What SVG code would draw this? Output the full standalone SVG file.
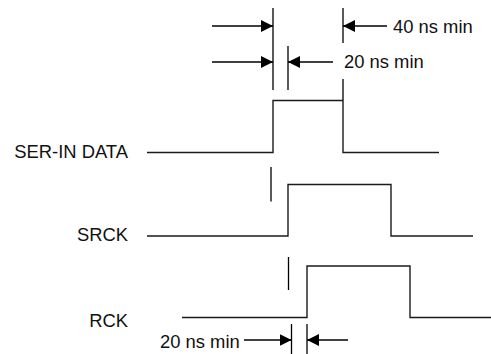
<svg xmlns="http://www.w3.org/2000/svg" width="491" height="354" viewBox="0 0 491 354">
<defs>
<style>
.w{fill:none;stroke:#1a1a1a;stroke-width:1.4}
.d{fill:none;stroke:#000;stroke-width:1.3}
.t{font-family:"Liberation Sans",Arial,sans-serif;font-size:18.4px;fill:#111}
</style>
<marker id="ah" viewBox="0 0 12 12" refX="12" refY="6" markerWidth="12" markerHeight="12" markerUnits="userSpaceOnUse" orient="auto">
<path d="M0,0 L12,6 L0,12 Z" fill="#000"/>
</marker>
</defs>
<rect width="491" height="354" fill="#fff"/>
<g id="labels">
<text class="t" x="128" y="157.5" text-anchor="end">SER-IN DATA</text>
<text class="t" x="128" y="240.5" text-anchor="end">SRCK</text>
<text class="t" x="128" y="327" text-anchor="end">RCK</text>
</g>
<g id="ser-in-data">
<polyline class="w" points="147,152.5 273,152.5 273,100.5 343,100.5 343,152.5 439,152.5"/>
</g>
<g id="srck">
<polyline class="w" points="147,236 288,236 288,184.5 391,184.5 391,236 473,236"/>
</g>
<g id="rck">
<polyline class="w" points="182,317.5 307,317.5 307,266 410,266 410,317.5 491,317.5"/>
</g>
<g id="connectors">
<line class="d" x1="273" y1="8" x2="273" y2="90"/>
<line class="d" x1="288" y1="46" x2="288" y2="90"/>
<line class="d" x1="343" y1="8" x2="343" y2="43"/>
<line class="d" x1="343" y1="79" x2="343" y2="100"/>
<line class="d" x1="271" y1="167" x2="271" y2="201.5"/>
<line class="d" x1="288.5" y1="257" x2="288.5" y2="290"/>
<line class="d" x1="291.5" y1="324" x2="291.5" y2="354"/>
<line class="d" x1="307" y1="324" x2="307" y2="354"/>
<line class="d" x1="212" y1="26" x2="273" y2="26" marker-end="url(#ah)"/>
<line class="d" x1="212" y1="62" x2="273" y2="62" marker-end="url(#ah)"/>
<line class="d" x1="387" y1="26" x2="343" y2="26" marker-end="url(#ah)"/>
<line class="d" x1="333" y1="62" x2="288" y2="62" marker-end="url(#ah)"/>
<line class="d" x1="244" y1="340" x2="291.5" y2="340" marker-end="url(#ah)"/>
<line class="d" x1="348" y1="340" x2="307" y2="340" marker-end="url(#ah)"/>
</g>
<g id="timing-labels">
<text class="t" x="393" y="33">40 ns min</text>
<text class="t" x="344" y="68">20 ns min</text>
<text class="t" x="160" y="348">20 ns min</text>
</g>
</svg>
